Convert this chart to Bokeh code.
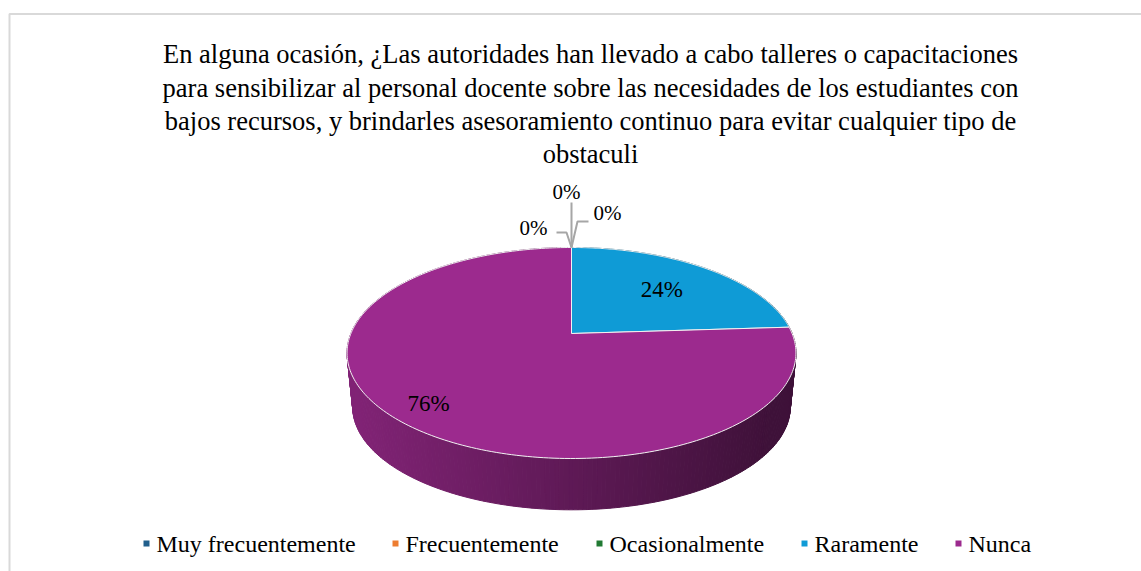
import numpy as np
from bokeh.plotting import figure
from bokeh.models import Range1d
from bokeh.core.properties import value
from bokeh.embed import file_html
from bokeh.resources import INLINE

# ---------------- data ----------------
categories = ["Muy frecuentemente", "Frecuentemente", "Ocasionalmente", "Raramente", "Nunca"]
percentages = [0, 0, 0, 24, 76]
colors = ["#215F8C", "#ED7D31", "#217A33", "#0F9BD6", "#9C2A8E"]
title_lines = [
    "En alguna ocasión, ¿Las autoridades han llevado a cabo talleres o capacitaciones",
    "para sensibilizar al personal docente sobre las necesidades de los estudiantes con",
    "bajos recursos, y brindarles asesoramiento continuo para evitar cualquier tipo de",
    "obstaculi",
]

# ---------------- layout (page pixel coordinates) ----------------
W, H = 1141, 571
OX, OY = 0, 0
FONT = "Liberation Serif"
TOP = dict(X0=571.0, Y0=333.0, A=220.6, B=101.9, k=0.1848)
BOT = dict(X0=571.0, Y0=387.5, A=215.0, B=99.3, k=0.1848)


def proj(u, v, P):
    d = 1.0 + P["k"] * v
    return P["X0"] + P["A"] * u / d, P["Y0"] - P["B"] * v / d


def hexrgb(h):
    h = h.lstrip("#")
    return np.array([int(h[i:i + 2], 16) for i in (0, 2, 4)], dtype=float)


def rgbhex(c):
    c = np.clip(np.round(c), 0, 255).astype(int)
    return "#%02x%02x%02x" % tuple(c)


p = figure(width=W, height=H, x_range=Range1d(OX, OX + W), y_range=Range1d(OY + H, OY),
           output_backend="svg", toolbar_location=None, min_border=0)
p.axis.visible = False
p.grid.visible = False
p.outline_line_color = None
p.background_fill_color = "white"

# chart area border (only top/left visible in window)
p.line([9, 9, 1200], [700, 13.5, 13.5], line_color="#D9D9D9", line_width=2)

# angles (clockwise from top)
fr = np.array(percentages, dtype=float) / sum(percentages)
ends = np.cumsum(fr) * 2 * np.pi
starts = ends - fr * 2 * np.pi

# ---------------- side wall (gradient strips) ----------------
quads = []
for s, e, c in zip(starts, ends, colors):
    if e - s <= 0:
        continue
    n = max(4, int((e - s) / (2 * np.pi) * 360))
    ph = np.linspace(s, e, n + 1)
    base = hexrgb(c)
    for i in range(n):
        a, b = ph[i], ph[i + 1]
        tx1, ty1 = proj(np.sin(a), np.cos(a), TOP)
        tx2, ty2 = proj(np.sin(b), np.cos(b), TOP)
        bx1, by1 = proj(np.sin(a), np.cos(a), BOT)
        bx2, by2 = proj(np.sin(b), np.cos(b), BOT)
        mx = (tx1 + tx2) / 2
        t = np.clip((mx - 350) / (770 - 350), 0, 1)
        f = 0.83 - (0.83 - 0.40) * t
        col = rgbhex(base * f)
        vmid = np.cos((a + b) / 2)
        quads.append((vmid, [tx1, tx2, bx2, bx1], [ty1, ty2, by2, by1], col))
quads.sort(key=lambda q: -q[0])
p.patches([q[1] for q in quads], [q[2] for q in quads],
          fill_color=[q[3] for q in quads], line_color=[q[3] for q in quads], line_width=1)

# ---------------- top face ----------------
xs, ys, fc = [], [], []
for s, e, c in zip(starts, ends, colors):
    if e - s <= 0:
        continue
    ph = np.linspace(s, e, 240)
    px, py = proj(np.sin(ph), np.cos(ph), TOP)
    xs.append([TOP["X0"]] + list(px))
    ys.append([TOP["Y0"]] + list(py))
    fc.append(c)
p.patches(xs, ys, fill_color=fc, line_color="#F2F2F2", line_width=1)

# ---------------- data labels ----------------
label_r = [0.0, 0.0, 0.0, 0.65, 0.84]
lx, ly, lt = [], [], []
zx, zy, zt = [], [], []
zero_off = [(-38, -19), (-5, -55), (36, -34)]  # label offsets for 0% slices from top point
leader = [
    [(0, 0), (-5, -15), (-15, -15)],
    [(0, 0), (0, -45)],
    [(0, 0), (6, -26), (17, -26)],
]
zi = 0
topx, topy = proj(0.0, 1.0, TOP)
for pct, s, e, r in zip(percentages, starts, ends, label_r):
    txt = "%d%%" % pct
    if e - s > 0:
        m = (s + e) / 2
        x, y = proj(r * np.sin(m), r * np.cos(m), TOP)
        lx.append(x); ly.append(y); lt.append(txt)
    else:
        dx, dy = zero_off[zi]
        zx.append(topx + dx); zy.append(topy + dy); zt.append(txt)
        pts = leader[zi]
        p.line([topx + a for a, b in pts], [topy + b for a, b in pts],
               line_color="#A6A6A6", line_width=2)
        zi += 1

p.text(lx, ly, text=lt, text_font=value(FONT), text_font_size="23px",
       text_align="center", text_baseline="middle", text_color="#000000")
p.text(zx, zy, text=zt, text_font=value(FONT), text_font_size="21px",
       text_align="center", text_baseline="middle", text_color="#000000")

# ---------------- title ----------------
p.text([590] * len(title_lines), [53, 87.5, 120.5, 153][:len(title_lines)], text=title_lines,
       text_font=value(FONT), text_font_size="26.5px", text_align="center",
       text_baseline="middle", text_color="#000000")

# ---------------- legend ----------------
leg_x = [146, 395, 599, 804, 958]
leg_y = 543
p.rect(leg_x, [leg_y] * 5, width=6, height=6, fill_color=colors, line_color=None)
p.text([x + 10 for x in leg_x], [leg_y] * 5, text=categories, text_font=value(FONT),
       text_font_size="24px", text_align="left", text_baseline="middle", text_color="#000000")

open("out.html", "w").write(file_html(p, INLINE))
